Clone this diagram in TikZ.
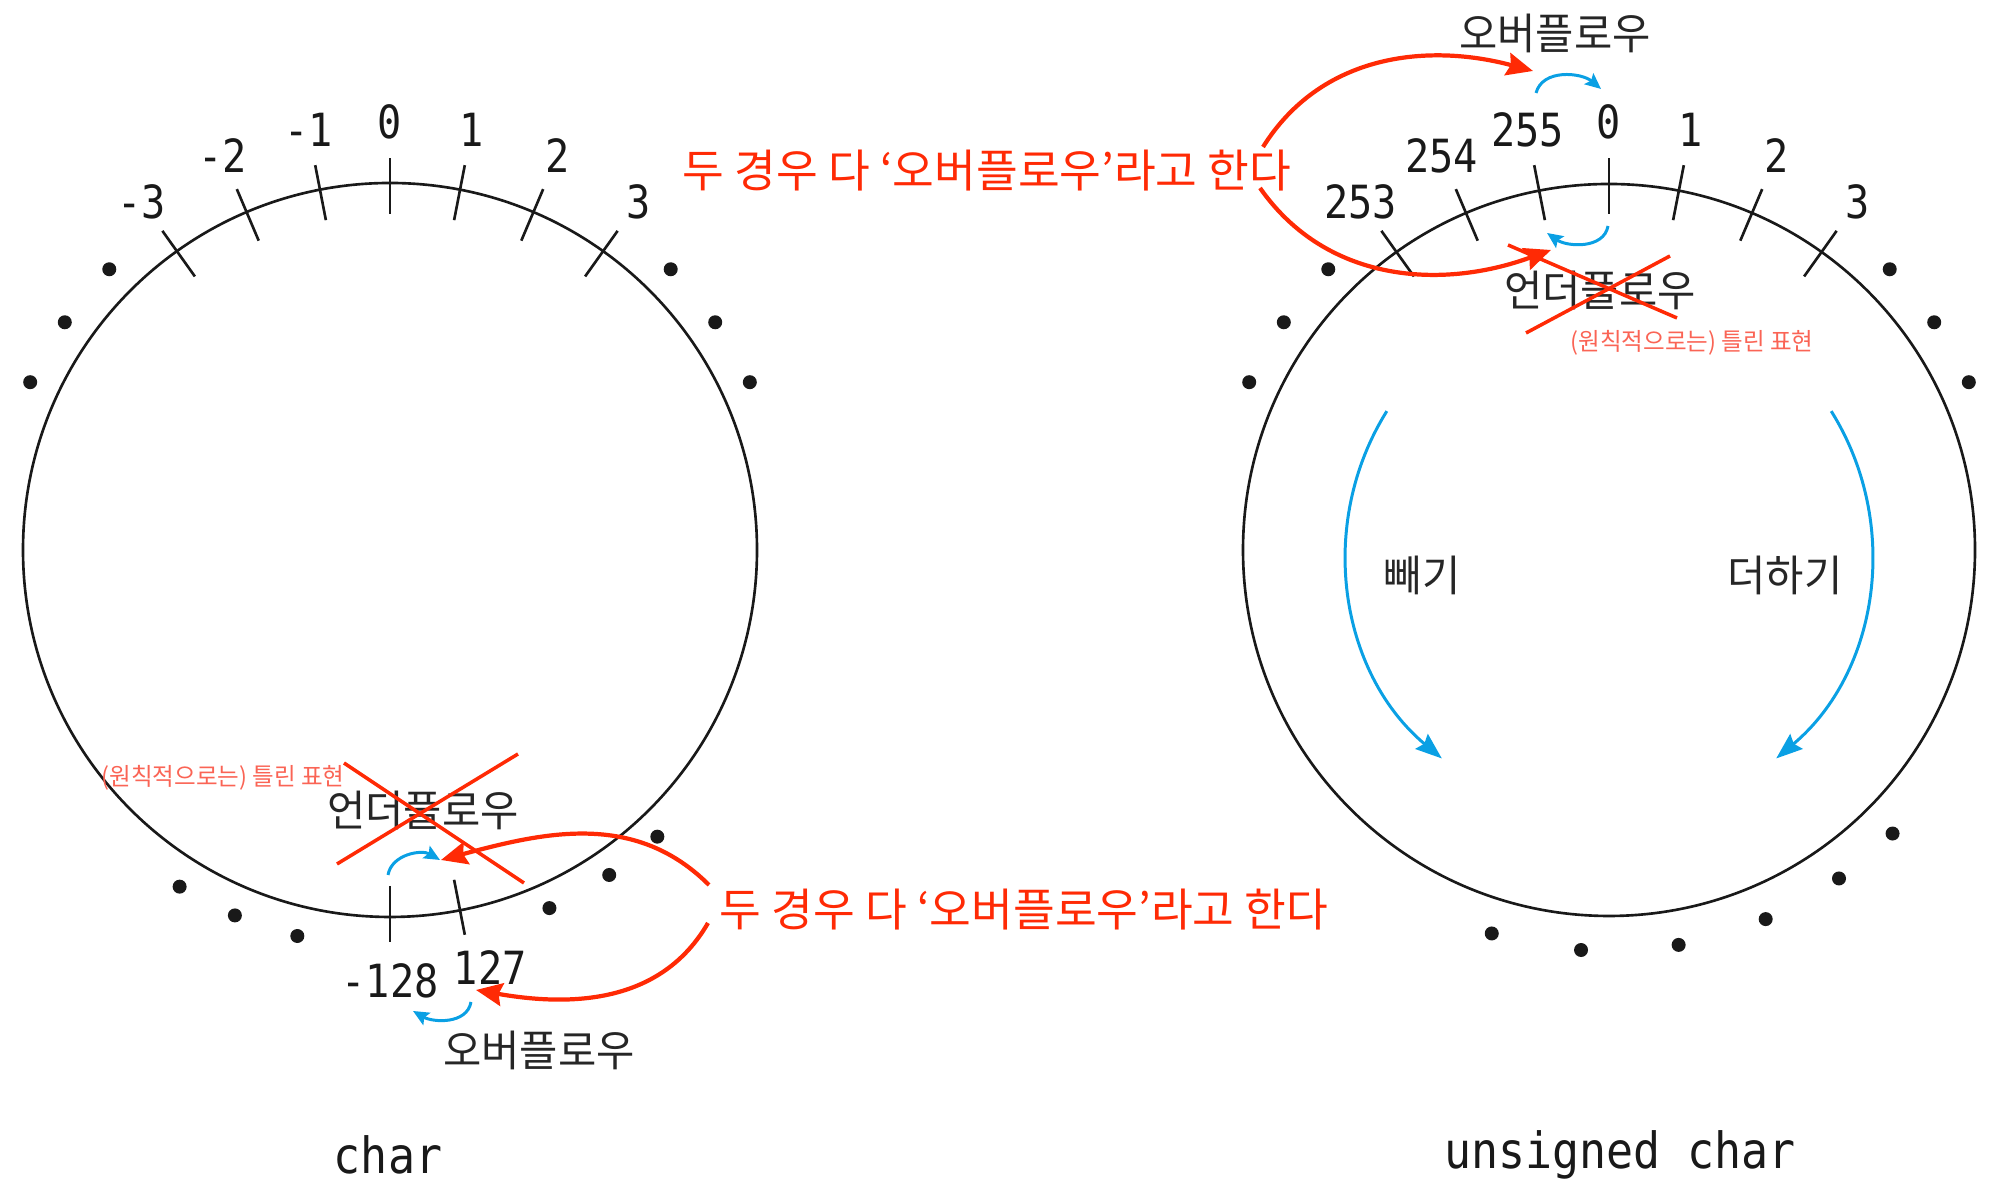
\documentclass[tikz,border=0pt]{standalone}
\usepackage{fontspec}
\setmainfont{Noto Sans CJK KR}
\newfontfamily\krfont[FakeStretch=0.97]{Noto Sans CJK KR}
\newfontfamily\numfont[FakeStretch=0.88]{DejaVu Sans Mono}
\newfontfamily\codefont[FakeStretch=0.9]{DejaVu Sans Mono}
\usetikzlibrary{arrows.meta}
\definecolor{ovred}{RGB}{255,42,5}
\definecolor{ovpink}{RGB}{250,100,85}
\definecolor{ovblue}{RGB}{10,160,228}
\tikzset{
  ring/.style={line width=0.75pt,black!90},
  notch/.style={line width=0.75pt,black!90},
  num/.style={font=\numfont\fontsize{13}{13}\selectfont,inner sep=0pt,text=black!90},
  kr/.style={font=\krfont\fontsize{12.2}{12.2}\selectfont,inner sep=0pt,text=black!85},
  remark/.style={font=\fontsize{12.9}{12.9}\selectfont,text=ovred,inner sep=0pt},
  wrong/.style={font=\krfont\fontsize{6.9}{6.9}\selectfont,text=ovpink,inner sep=0pt},
  typename/.style={font=\codefont\fontsize{14.2}{14.2}\selectfont,inner sep=0pt,text=black!90},
  redarrow/.style={ovred,line width=1.2pt,-{Stealth[length=7.5pt,width=6.5pt,inset=1pt]}},
  cross/.style={ovred,line width=1pt},
  bluearrow/.style={ovblue,line width=0.85pt,-{Stealth[length=4.5pt,width=4pt,inset=0.8pt]}},
  bigblue/.style={ovblue,line width=0.85pt,-{Stealth[length=7.5pt,width=5.5pt,inset=1pt]}},
}
\begin{document}
\begin{tikzpicture}[x=0.01cm,y=0.01cm]
  \useasboundingbox (0,0) rectangle (2000,1201);

  % char
  \begin{scope}[shift={(390,651)}]
    \draw[ring] (0,0) circle[radius=367];
    \foreach \a/\t in {90/0,79/1,67/2,54.5/3,101/-1,113/-2,125.5/-3} {
      \draw[notch] (\a:336) -- (\a:392);
      \node[num] (s\t) at (\a:428) {\t};
    }
    \draw[notch] (270:336) -- (270:392);
    \draw[notch] (281:336) -- (281:392);
    \node[num] (sm128) at (270:431) {-128};
    \node[num] (sp127) at (283.5:429) {127};
    \foreach \a in {135,145,155,45,35,25,238,247,256.5}
      \fill[black!90] (\a:397) circle[radius=7];
    \foreach \a in {294,304,313}
      \fill[black!90] (\a:392) circle[radius=7];
  \end{scope}

  % unsigned char
  \begin{scope}[shift={(1609,651)}]
    \draw[ring] (0,0) circle[radius=366];
    \foreach \a/\t in {90/0,79/1,67/2,54.5/3,101/255,113/254,125.5/253} {
      \draw[notch] (\a:336) -- (\a:392);
      \node[num] (u\t) at (\a:428) {\t};
    }
    \foreach \a in {135,145,155,45,35,25}
      \fill[black!90] (\a:397) circle[radius=7];
    \foreach \a in {253,266,280,293,305,315}
      \fill[black!90] (\a:401) circle[radius=7];
    \draw[bigblue] (148:262) arc[start angle=148,end angle=230,radius=268];
    \draw[bigblue] (32:262) arc[start angle=32,end angle=-50,radius=268];
  \end{scope}

  \node[kr] (minus) at (1422,626) {빼기};
  \node[kr] (plus) at (1785,626) {더하기};

  \node[typename] (tchar) at (388,46) {char};
  \node[typename] (tuchar) at (1620,46) {unsigned char};

  % top side
  \node[kr] (ovtop) at (1555,1168) {오버플로우};
  \node[kr] (untop) at (1600,911) {언더플로우};
  \node[wrong] (wrtop) at (1692,858) {(원칙적으로는) 틀린 표현};
  \node[remark] (bothtop) at (987,1030) {두 경우 다 ‘오버플로우’라고 한다};
  \draw[cross] (1508,956) -- (1677,883);
  \draw[cross] (1670,945) -- (1526,868);

  \coordinate (ua) at (1536,1108);
  \coordinate (ub) at (1601,1112);
  \coordinate (uc) at (1608,975);
  \coordinate (ud) at (1547,968);
  \draw[bluearrow] (ua) to[out=75,in=140] (ub);
  \draw[bluearrow] (uc) to[out=-100,in=-35] (ud);

  \coordinate (ra) at (1263,1054);
  \coordinate (rb) at (1533,1130);
  \coordinate (rc) at (1260,1013);
  \coordinate (rd) at (1551,951);
  \draw[redarrow] (ra) to[out=58,in=165] (rb);
  \draw[redarrow] (rc) to[out=-55,in=200] (rd);

  % bottom side
  \node[kr] (ovbot) at (539,151) {오버플로우};
  \node[kr] (unbot) at (423,391) {언더플로우};
  \node[wrong] (wrbot) at (223,423) {(원칙적으로는) 틀린 표현};
  \node[remark] (bothbot) at (1024,291) {두 경우 다 ‘오버플로우’라고 한다};
  \draw[cross] (344,438) -- (524,318);
  \draw[cross] (518,447) -- (337,337);

  \coordinate (la) at (388,326);
  \coordinate (lb) at (440,341);
  \coordinate (lc) at (471,199);
  \coordinate (ld) at (413,190);
  \draw[bluearrow] (la) to[out=80,in=150] (lb);
  \draw[bluearrow] (lc) to[out=-100,in=-30] (ld);

  \coordinate (rla) at (709,316);
  \coordinate (rlb) at (441,341);
  \coordinate (rlc) at (708,278);
  \coordinate (rld) at (476,211);
  \draw[redarrow] (rla) to[out=135,in=15] (rlb);
  \draw[redarrow] (rlc) to[out=-120,in=-10] (rld);
\end{tikzpicture}
\end{document}
